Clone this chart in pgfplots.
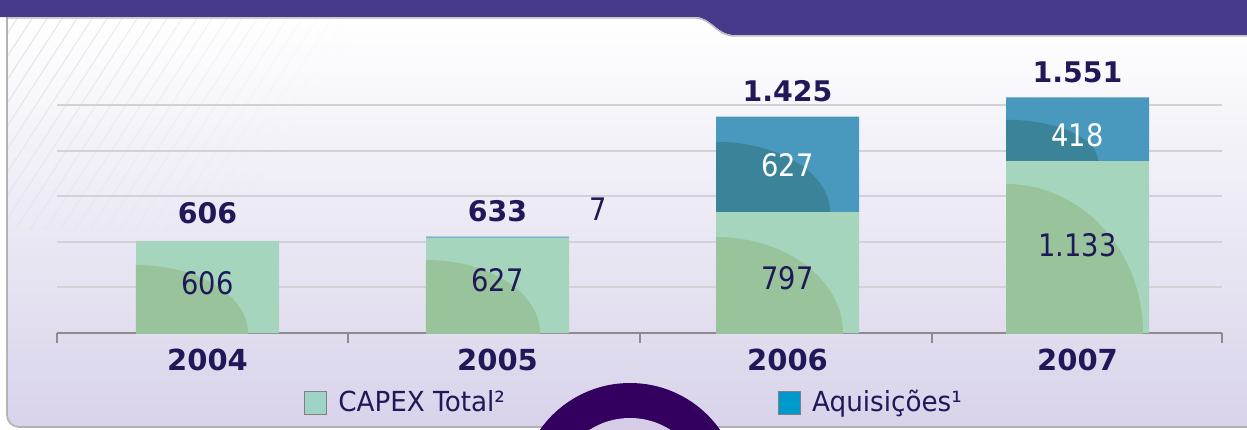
\documentclass[border=0pt]{standalone}
\usepackage{fontspec}
\setmainfont{DejaVu Sans}
\newfontfamily\condf{DejaVu Sans}[FakeStretch=0.88]
\newfontfamily\legf{DejaVu Sans}[FakeStretch=0.95]
\usepackage{pgfplots}
\pgfplotsset{compat=1.18}
\definecolor{hdr}{RGB}{72,58,138}
\definecolor{navy}{RGB}{32,24,88}
\definecolor{capc}{RGB}{165,214,189}
\definecolor{capd}{RGB}{152,195,155}
\definecolor{aqc}{RGB}{72,153,189}
\definecolor{aqd}{RGB}{59,131,153}
\definecolor{lav}{RGB}{216,211,234}
\definecolor{ringc}{RGB}{52,0,96}
\definecolor{ringin}{RGB}{214,204,232}
\definecolor{capleg}{RGB}{158,211,200}
\definecolor{aqleg}{RGB}{0,153,204}
\definecolor{gridc}{RGB}{210,210,214}
\definecolor{tickc}{RGB}{140,140,140}
\tikzset{blob/.style n args={3}{path picture={\fill[#1] (path picture bounding box.south west) ellipse [x radius=#2, y radius=#3];}}}
\begin{document}
\begin{tikzpicture}
\begin{scope}[x=0.5pt,y=-0.5pt]
\useasboundingbox (0,0) rectangle (1247,429);
\fill[white] (0,0) rectangle (1247,429);
% panel
\shade[top color=white, middle color=white, bottom color=lav]
  (7,17) -- (7,415) arc[start angle=180, end angle=90, radius=12] -- (1247,427) -- (1247,17) -- cycle;
\draw[gray!60, line width=0.8pt] (7,17) -- (7,415) arc[start angle=180, end angle=90, radius=12] -- (1247,427);
% hatching
\begin{scope}
\clip (8,18) rectangle (420,230);
\foreach \i in {0,...,26} {
  \pgfmathsetmacro{\op}{max(0,0.9-\i/26)}
  \draw[gray!22, line width=0.6pt, opacity=\op] ({-120+15*\i},230) -- ({-120+15*\i+138},17);
}
\end{scope}
% header
\fill[hdr] (0,0) -- (1247,0) -- (1247,35) -- (735,35) .. controls (716,35) and (712,17) .. (695,17) -- (0,17) -- cycle;
\draw[gray!55, line width=0.7pt] (8,18) -- (695,18) .. controls (712,18) and (716,36) .. (735,36) -- (1247,36);
% ring
\begin{scope}
\clip (0,0) rectangle (1247,429);
\fill[ringc] (630,493) circle[radius=110];
\fill[ringin] (630,493) circle[radius=75];
\end{scope}
\end{scope}
\begin{axis}[
  at={(28.5pt,-166.5pt)}, anchor=south west,
  x=145pt, y=0.076pt,
  xmin=-0.519, xmax=3.498, ymin=0, ymax=1700,
  clip=false,
  axis x line*=bottom, axis y line*=left,
  y axis line style={draw=none},
  x axis line style={-, draw=tickc, line width=1pt},
  ytick={300,600,900,1200,1500}, yticklabels={}, ytick style={draw=none},
  ymajorgrids, grid style={gridc, line width=1pt},
  xtick={0,1,2,3}, xticklabels={2004,2005,2006,2007},
  major tick length=0pt, tick align=outside,
  extra x ticks={-0.519,0.484,1.491,2.498,3.498}, extra x tick labels={},
  extra x tick style={major tick length=5pt, tick style={draw=tickc, line width=1pt}},
  xticklabel style={font=\bfseries\fontsize{14.5}{16}\selectfont, text=navy, anchor=base, yshift=-18.5pt},
  ybar stacked, bar width=71.5pt, reverse stacked plots=false,
  legend columns=2,
  legend style={at={(axis cs:0.333,-460)}, anchor=west, draw=none, fill=none,
    inner sep=0pt, outer sep=0pt, nodes={inner sep=0pt}, cells={anchor=base west},
    font=\legf\fontsize{13.8}{16}\selectfont, text=navy,
    /tikz/every odd column/.append style={column sep=5.5pt},
    /tikz/every even column/.append style={column sep=136.5pt}},
]
\addplot[fill=capc, draw=none,
  legend image code/.code={\draw[draw=gray, fill=capleg, line width=0.6pt] (0pt,-1.5pt) rectangle (11pt,10pt);}]
  coordinates {(0,606) (1,627) (2,797) (3,1133)};
\addlegendentry{CAPEX Total²}
\addplot[fill=aqc, draw=none,
  legend image code/.code={\draw[draw=gray, fill=aqleg, line width=0.6pt] (0pt,-1.5pt) rectangle (11pt,10pt);}]
  coordinates {(0,0) (1,7) (2,627) (3,418)};
\addlegendentry{Aquisições¹}
% shading inside bars
\path[blob={capd}{56pt}{34pt}] (axis cs:-0.2466,0) rectangle (axis cs:0.2466,606);
\path[blob={capd}{57pt}{36.5pt}] (axis cs:0.7534,0) rectangle (axis cs:1.2466,627);
\path[blob={capd}{63.5pt}{48pt}] (axis cs:1.7534,0) rectangle (axis cs:2.2466,797);
\path[blob={capd}{68.5pt}{74.5pt}] (axis cs:2.7534,0) rectangle (axis cs:3.2466,1133);
\path[blob={aqd}{57pt}{35pt}] (axis cs:1.7534,797) rectangle (axis cs:2.2466,1424);
\path[blob={aqd}{46pt}{20.5pt}] (axis cs:2.7534,1133) rectangle (axis cs:3.2466,1551);
% totals
\node[font=\bfseries\fontsize{14.2}{16}\selectfont, text=navy, anchor=base, yshift=8.5pt] at (axis cs:0,606) {606};
\node[font=\bfseries\fontsize{14.2}{16}\selectfont, text=navy, anchor=base, yshift=7.5pt] at (axis cs:1,634) {633};
\node[font=\bfseries\fontsize{14.2}{16}\selectfont, text=navy, anchor=base, yshift=7.5pt] at (axis cs:2,1424) {1.425};
\node[font=\bfseries\fontsize{14.2}{16}\selectfont, text=navy, anchor=base, yshift=7.5pt] at (axis cs:3,1551) {1.551};
% inner labels
\node[font=\condf\fontsize{15.5}{17}\selectfont, text=navy] at (axis cs:0,326) {606};
\node[font=\condf\fontsize{15.5}{17}\selectfont, text=navy] at (axis cs:1,349) {627};
\node[font=\condf\fontsize{15.5}{17}\selectfont, text=navy] at (axis cs:2,358) {797};
\node[font=\condf\fontsize{15.5}{17}\selectfont, text=navy] at (axis cs:3,579) {1.133};
\node[font=\condf\fontsize{15.5}{17}\selectfont, text=white] at (axis cs:2,1105) {627};
\node[font=\condf\fontsize{15.5}{17}\selectfont, text=white] at (axis cs:3,1303) {418};
\node[font=\condf\fontsize{15.5}{17}\selectfont, text=navy, anchor=base] at (axis cs:1.347,737) {7};
\end{axis}
\end{tikzpicture}
\end{document}
